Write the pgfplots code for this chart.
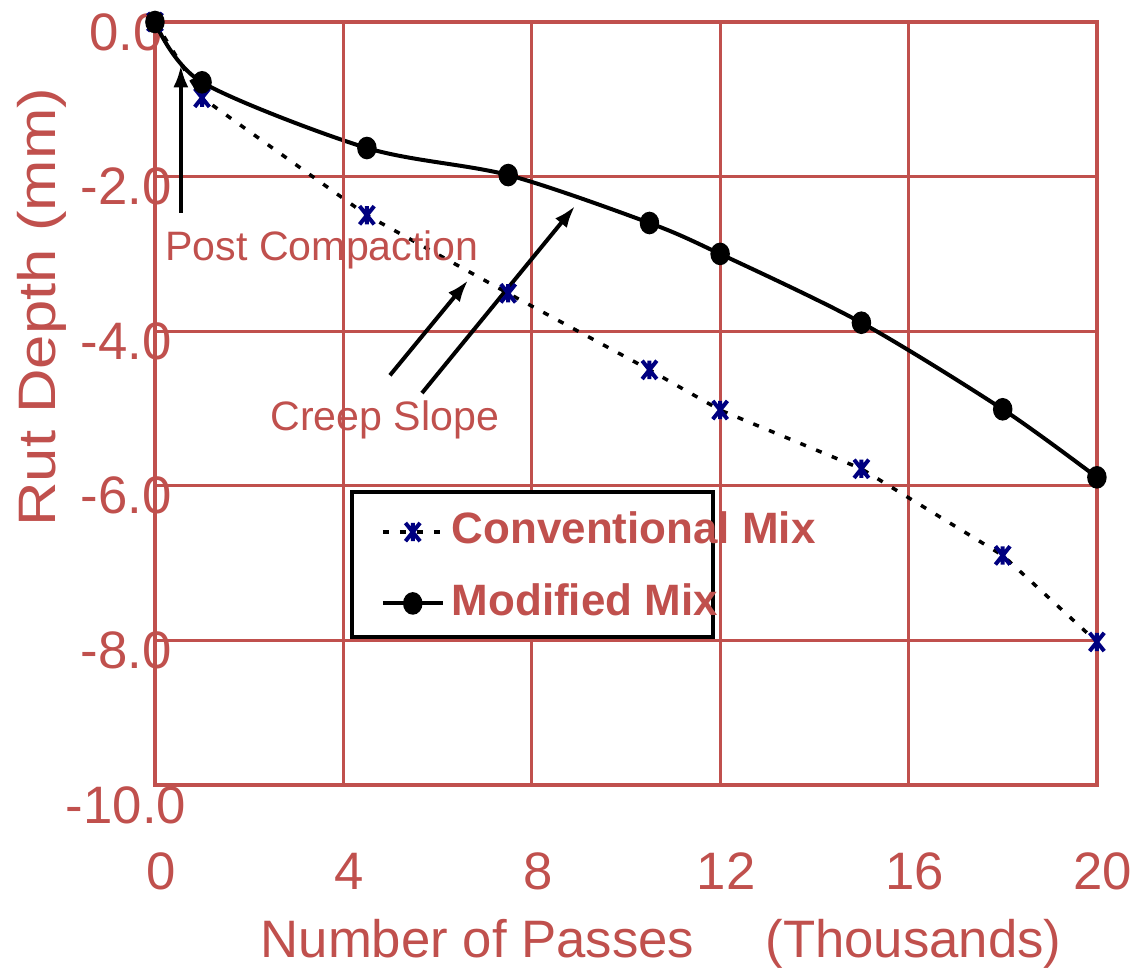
\documentclass[border=0pt]{standalone}
\usepackage{fontspec}
\setmainfont{Liberation Sans}
\usepackage{graphicx}
\usepackage{pgfplots}
\pgfplotsset{compat=1.18}
\usetikzlibrary{arrows.meta}
\definecolor{chartred}{RGB}{192,80,77}
\definecolor{marknavy}{RGB}{0,0,128}

% X with a vertical bar, as in the original chart
\pgfdeclareplotmark{xbar}{%
  \pgfpathmoveto{\pgfqpoint{-0.8\pgfplotmarksize}{-\pgfplotmarksize}}%
  \pgfpathlineto{\pgfqpoint{0.8\pgfplotmarksize}{\pgfplotmarksize}}%
  \pgfpathmoveto{\pgfqpoint{-0.8\pgfplotmarksize}{\pgfplotmarksize}}%
  \pgfpathlineto{\pgfqpoint{0.8\pgfplotmarksize}{-\pgfplotmarksize}}%
  \pgfpathmoveto{\pgfqpoint{0pt}{-\pgfplotmarksize}}%
  \pgfpathlineto{\pgfqpoint{0pt}{\pgfplotmarksize}}%
  \pgfusepathqstroke}

\begin{document}
\begin{tikzpicture}
\begin{axis}[
  scale only axis,
  width=9.42cm, height=7.63cm,
  xmin=0, xmax=20, ymin=-9.87, ymax=0,
  xtick={0,4,...,20},
  ytick={-8,-6,-4,-2,0},
  yticklabels={-8.0,-6.0,-4.0,-2.0,0.0},
  grid=major,
  major grid style={chartred, line width=0.3mm},
  axis line style={chartred, line width=0.33mm},
  major tick length=0pt,
  tick style={draw=none},
  /pgf/number format/assume math mode=true,
  ticklabel style={font=\fontsize{15}{18}\selectfont, text=chartred, inner sep=0pt},
  xticklabel style={anchor=base, yshift=-10.5mm, xshift=0.6mm},
  yticklabel style={anchor=base, xshift=-2.9mm, yshift=-2.8mm},
  clip=false,
  legend style={draw=none, fill=none, at={(axis cs:4.78,-6.23)}, anchor=north west,
    inner sep=0pt, row sep=4.5pt, font=\bfseries\fontsize{12.5}{15}\selectfont, text=chartred,
    nodes={inner sep=2pt, text height=9.2pt, text depth=2.6pt}},
  legend cell align=left,
]

% legend frame (fixed size, text runs past it on the right)
\draw[black, line width=0.4mm, fill=white] (axis cs:4.18,-6.08) rectangle (axis cs:11.85,-7.95);

\addplot[black, line width=0.35mm, dash pattern=on 0.6mm off 1.1mm,
  mark=xbar, mark size=2.6pt, mark options={solid, marknavy, line width=0.4mm}]
coordinates {
  (0,0) (1.0,-0.98) (4.5,-2.50) (7.5,-3.51) (10.5,-4.50)
  (12.0,-5.02) (15.0,-5.78) (18.0,-6.90) (20.0,-8.02)
};
\addlegendentry{Conventional Mix}

\addplot[black, line width=0.4mm, smooth,
  mark=*, mark size=2.2pt, mark options={solid, black, yscale=1.2}]
coordinates {
  (0,0) (1.0,-0.78) (4.5,-1.63) (7.5,-1.98) (10.5,-2.60)
  (12.0,-3.00) (15.0,-3.89) (18.0,-5.01) (20.0,-5.89)
};
\addlegendentry{Modified Mix}

% lone tick under x=4
\draw[chartred, line width=0.3mm] (axis cs:4,-9.87) -- ++(0,-1.2mm);

% annotations
\node[anchor=base west, inner sep=0pt, text=chartred, font=\fontsize{11.7}{14}\selectfont]
  at (axis cs:0.21,-3.08) {Post Compaction};
\draw[-{Latex[length=2.2mm,width=1.5mm]}, line width=0.4mm] (axis cs:0.55,-2.47) -- (axis cs:0.55,-0.56);
\node[anchor=base west, inner sep=0pt, text=chartred, font=\fontsize{11.7}{14}\selectfont]
  at (axis cs:2.44,-5.28) {Creep Slope};
\draw[-{Latex[length=2.2mm,width=1.5mm]}, line width=0.4mm] (axis cs:4.99,-4.57) -- (axis cs:6.65,-3.34);
\draw[-{Latex[length=2.2mm,width=1.5mm]}, line width=0.4mm] (axis cs:5.67,-4.80) -- (axis cs:8.92,-2.38);

% axis titles
\node[anchor=base west, inner sep=0pt, text=chartred, font=\fontsize{15}{18}\selectfont]
  at (axis cs:2.23,-12.10) {Number of Passes};
\node[anchor=base west, inner sep=0pt, text=chartred, font=\fontsize{15}{18}\selectfont]
  at (axis cs:12.95,-12.10) {(Thousands)};
\node[rotate=90, inner sep=0pt, text=chartred, font=\fontsize{15}{18}\selectfont]
  at (axis cs:-2.40,-3.69) {\scalebox{1.17}[1]{Rut Depth (mm)}};
\node[anchor=base, inner sep=0pt, text=chartred, font=\fontsize{15}{18}\selectfont,
  xshift=-2.9mm, yshift=-2.8mm] at (axis cs:0,-10) {-10.0};

\coordinate (bl) at (axis cs:-3.29,-12.24);
\coordinate (tr) at (axis cs:21.0,0.285);
\end{axis}
\pgfresetboundingbox
\path[use as bounding box] (bl) rectangle (tr);
\end{tikzpicture}
\end{document}
